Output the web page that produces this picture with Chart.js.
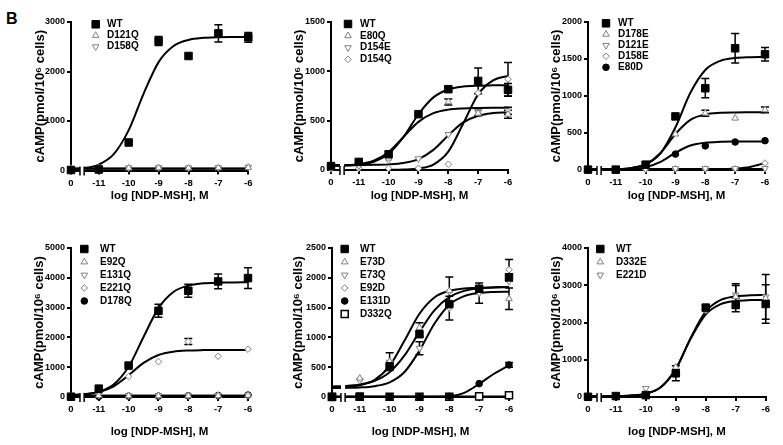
<!DOCTYPE html>
<html>
<head>
<meta charset="utf-8">
<title>cAMP dose response, panel B</title>
<script src="https://cdn.jsdelivr.net/npm/chart.js@4.4.1/dist/chart.umd.min.js"></script>
<style>
    html, body { margin: 0; padding: 0; background: #fff; }
    #figure { position: relative; width: 783px; height: 445px; overflow: hidden; background: #fff; }
    #figure canvas { position: absolute; }
    #panel-tag { position: absolute; left: 6px; top: 9.6px; line-height: 16px; font: bold 16px "Liberation Sans", Arial, sans-serif; }
</style>
</head>
<body>
<div id="figure">
    <div id="panel-tag">B</div>
    <canvas id="chart-a" width="260" height="215" style="left:0;top:0"></canvas>
    <canvas id="chart-b" width="260" height="215" style="left:260px;top:0"></canvas>
    <canvas id="chart-c" width="263" height="215" style="left:520px;top:0"></canvas>
    <canvas id="chart-d" width="260" height="230" style="left:0;top:215px"></canvas>
    <canvas id="chart-e" width="260" height="230" style="left:260px;top:215px"></canvas>
    <canvas id="chart-f" width="263" height="230" style="left:520px;top:215px"></canvas>
</div>
<script>
// doses are log [NDP-MSH]; 0 means no ligand and sits left of the axis break
const doses = [0, -11, -10, -9, -8, -7, -6];
const doseLabels = ['0', '-11', '-10', '-9', '-8', '-7', '-6'];
const fitDoses = [0, -11.5, -11, -10.5, -10, -9.5, -9, -8.5, -8, -7.5, -7, -6.5, -6];

// panel a
const aWT = [10, 20, 566, 2616, 2313, 2771, 2690];
const aWTErr = [0, 0, 0, 90, 0, 175, 100];
const aWTFit = [23, 46, 120, 330, 815, 1555, 2190, 2514, 2638, 2680, 2694, 2698, 2699];
const aD121Q = [40, 50, 50, 55, 50, 55, 60];
const aD121QFit = [35, 35, 35, 35, 35, 35, 35, 35, 35, 35, 35, 35, 35];
const aD158Q = [45, 55, 55, 60, 55, 60, 70];
const aD158QFit = [40, 40, 40, 40, 40, 40, 40, 40, 40, 40, 40, 40, 40];

// panel b
const bWT = [40, 82, 160, 566, 819, 903, 812];
const bWTErr = [0, 0, 0, 0, 25, 130, 65];
const bWTFit = [42, 45, 54, 84, 164, 335, 565, 736, 816, 846, 855, 858, 860];
const bE80Q = [40, 70, 120, 555, 690, 575, 565];
const bE80QErr = [0, 0, 0, 0, 30, 0, 40];
const bE80QFit = [42, 46, 58, 94, 182, 335, 488, 576, 612, 624, 628, 630, 630];
const bD154E = [30, 40, 100, 115, 360, 586, 600];
const bD154EErr = [0, 0, 0, 0, 0, 35, 35];
const bD154EFit = [50, 50, 51, 52, 57, 71, 110, 204, 351, 482, 550, 577, 586];
const bD154Q = [10, 17, 17, 17, 58, 782, 920];
const bD154QErr = [0, 0, 0, 0, 0, 0, 170];
const bD154QFit = [0, 0, 0, 0, 1, 4, 15, 55, 186, 471, 767, 909, 954];

// panel c
const cWT = [5, 5, 72, 724, 1105, 1645, 1564];
const cWTErr = [0, 0, 0, 0, 130, 200, 90];
const cWTFit = [6, 7, 11, 25, 75, 226, 578, 1044, 1352, 1475, 1514, 1525, 1529];
const cD178E = [5, 5, 63, 485, 768, 700, 813];
const cD178EErr = [0, 0, 0, 0, 40, 0, 40];
const cD178EFit = [5, 6, 10, 25, 78, 232, 487, 677, 751, 773, 778, 779, 780];
const cD121E = [10, 10, 10, 20, 20, 20, 20];
const cD121EFit = [15, 15, 15, 15, 15, 15, 15, 15, 15, 15, 15, 15, 15];
const cD158E = [10, 10, 10, 15, 15, 15, 94];
const cD158EFit = [8, 8, 8, 8, 8, 8, 8, 8, 9, 12, 20, 42, 95];
const cE80D = [5, 5, 36, 215, 326, 378, 396];
const cE80DFit = [5, 6, 7, 14, 38, 110, 234, 331, 370, 381, 384, 385, 385];

// panel d
const dWT = [10, 280, 1054, 2892, 3565, 3879, 3991];
const dWTErr = [0, 0, 0, 220, 220, 250, 350];
const dWTFit = [65, 90, 175, 418, 1012, 2016, 2984, 3526, 3741, 3815, 3839, 3846, 3849];
const dE92Q = [20, 50, 40, 40, 40, 50, 60];
const dE92QFit = [40, 40, 40, 40, 40, 40, 40, 40, 40, 40, 40, 40, 40];
const dE131Q = [30, 60, 50, 50, 50, 60, 70];
const dE131QFit = [45, 45, 45, 45, 45, 45, 45, 45, 45, 45, 45, 45, 45];
const dE221Q = [10, 300, 684, 1188, 1861, 1368, 1603];
const dE221QErr = [0, 0, 0, 0, 100, 0, 0];
const dE221QFit = [64, 88, 162, 357, 727, 1144, 1409, 1521, 1561, 1574, 1578, 1580, 1580];
const dD178Q = [10, 20, 30, 30, 40, 50, 67];
const dD178QFit = [30, 30, 30, 30, 30, 30, 30, 30, 30, 30, 30, 30, 30];

// panel e
const eWT = [0, 5, 516, 1054, 1558, 1816, 2007];
const eWTErr = [0, 0, 0, 0, 0, 0, 60];
const eWTFit = [177, 185, 210, 272, 416, 697, 1092, 1453, 1675, 1780, 1823, 1840, 1846];
const eE73D = [0, 314, 594, 1166, 1783, 1816, 1648];
const eE73DErr = [0, 0, 0, 0, 230, 0, 180];
const eE73Q = [0, 280, 583, 818, 1491, 1743, 1940];
const eE73QErr = [0, 0, 0, 110, 200, 170, 0];
const eE73QFit = [151, 153, 160, 182, 246, 420, 778, 1229, 1549, 1693, 1745, 1762, 1767];
const eE92D = [0, 297, 594, 1127, 1771, 1838, 2136];
const eE92DErr = [0, 0, 150, 120, 0, 0, 170];
const eE92DFit = [156, 165, 196, 289, 521, 947, 1397, 1670, 1782, 1821, 1834, 1838, 1840];
const eE131D = [0, 0, 0, 0, 11, 224, 538];
const eE131DErr = [0, 0, 0, 0, 0, 0, 40];
const eE131DFit = [5, 5, 5, 5, 5, 5, 5, 6, 12, 70, 220, 390, 530];
const eD332Q = [5, 5, 5, 5, 5, 11, 28];
const eD332QFit = [10, 10, 10, 10, 10, 10, 10, 10, 10, 10, 10, 10, 10];

// panel f
const fWT = [5, 25, 50, 636, 2400, 2470, 2497];
const fWTErr = [0, 0, 0, 200, 60, 180, 515];
const fWTFit = [20, 21, 25, 39, 91, 267, 754, 1569, 2217, 2492, 2578, 2601, 2607];
const fD332E = [10, 30, 80, 800, 2330, 2690, 2650];
const fD332EErr = [0, 0, 0, 0, 0, 300, 0];
const fE221D = [10, 40, 230, 720, 2330, 2740, 2690];
const fE221DErr = [0, 0, 0, 0, 0, 300, 600];
const fE221DFit = [20, 21, 25, 39, 89, 261, 748, 1594, 2298, 2607, 2703, 2730, 2737];

const ZERO_AT = -11.93;               // axis spot used for the "0" dose
const AXIS_BREAK = [-11.63, -11.49];
const FONT = '"Liberation Sans", Arial, sans-serif';

const MARKERS = {
    square: { pointStyle: 'rect', radius: 5.3, fill: '#000', stroke: '#000', width: 1 },
    triangle: { pointStyle: 'triangle', radius: 3.8, fill: '#fff', stroke: '#808080', width: 1 },
    invTriangle: { pointStyle: 'triangle', rotation: 180, radius: 3.8, fill: '#fff', stroke: '#808080', width: 1 },
    diamond: { pointStyle: 'rectRot', radius: 3.3, fill: '#fff', stroke: '#808080', width: 1 },
    dot: { pointStyle: 'circle', radius: 3.3, fill: '#000', stroke: '#000', width: 1 },
    openSquare: { pointStyle: 'rect', radius: 5, fill: '#fff', stroke: '#000', width: 1.5 },
};

const PANELS = [
    {
        id: 'chart-a', yMax: 3000, yStep: 1000,
        area: { left: 71, right: 248.3, top: 22, bottom: 170.5 },
        yTitleX: 40.5, xTitleFromBottom: 19,
        legend: { dx: 24.7, tx: 36, y0: 2.3, dy: 11.2 },
        series: [
            { label: 'WT', marker: 'square', values: aWT, errors: aWTErr, fit: aWTFit },
            { label: 'D121Q', marker: 'triangle', values: aD121Q, fit: aD121QFit },
            { label: 'D158Q', marker: 'invTriangle', values: aD158Q, fit: aD158QFit },
        ],
    },
    {
        id: 'chart-b', yMax: 1500, yStep: 500,
        area: { left: 71, right: 248, top: 22, bottom: 170 },
        yTitleX: 39, xTitleFromBottom: 19,
        legend: { dx: 17, tx: 29, y0: 2, dy: 11.8 },
        series: [
            { label: 'WT', marker: 'square', values: bWT, errors: bWTErr, fit: bWTFit },
            { label: 'E80Q', marker: 'triangle', values: bE80Q, errors: bE80QErr, fit: bE80QFit },
            { label: 'D154E', marker: 'invTriangle', values: bD154E, errors: bD154EErr, fit: bD154EFit },
            { label: 'D154Q', marker: 'diamond', values: bD154Q, errors: bD154QErr, fit: bD154QFit },
        ],
    },
    {
        id: 'chart-c', yMax: 2000, yStep: 500,
        area: { left: 68, right: 245, top: 22, bottom: 170 },
        yTitleX: 36.5, xTitleFromBottom: 19,
        legend: { dx: 18, tx: 30, y0: 1.3, dy: 11 },
        series: [
            { label: 'WT', marker: 'square', values: cWT, errors: cWTErr, fit: cWTFit },
            { label: 'D178E', marker: 'triangle', values: cD178E, errors: cD178EErr, fit: cD178EFit },
            { label: 'D121E', marker: 'invTriangle', values: cD121E, fit: cD121EFit },
            { label: 'D158E', marker: 'diamond', values: cD158E, fit: cD158EFit },
            { label: 'E80D', marker: 'dot', values: cE80D, fit: cE80DFit },
        ],
    },
    {
        id: 'chart-d', yMax: 5000, yStep: 1000,
        area: { left: 71, right: 248, top: 33, bottom: 182 },
        yTitleX: 39, xTitleFromBottom: 13.3,
        legend: { dx: 13.3, tx: 29, y0: 1, dy: 13 },
        series: [
            { label: 'WT', marker: 'square', values: dWT, errors: dWTErr, fit: dWTFit },
            { label: 'E92Q', marker: 'triangle', values: dE92Q, fit: dE92QFit },
            { label: 'E131Q', marker: 'invTriangle', values: dE131Q, fit: dE131QFit },
            { label: 'E221Q', marker: 'diamond', values: dE221Q, errors: dE221QErr, fit: dE221QFit },
            { label: 'D178Q', marker: 'dot', values: dD178Q, fit: dD178QFit },
        ],
    },
    {
        id: 'chart-e', yMax: 2500, yStep: 500,
        area: { left: 72, right: 249, top: 33, bottom: 182 },
        yTitleX: 38.5, xTitleFromBottom: 13.3,
        legend: { dx: 12.7, tx: 28, y0: 1, dy: 13 },
        series: [
            { label: 'WT', marker: 'square', values: eWT, errors: eWTErr, fit: eWTFit },
            { label: 'E73D', marker: 'triangle', values: eE73D, errors: eE73DErr },
            { label: 'E73Q', marker: 'invTriangle', values: eE73Q, errors: eE73QErr, fit: eE73QFit },
            { label: 'E92D', marker: 'diamond', values: eE92D, errors: eE92DErr, fit: eE92DFit },
            { label: 'E131D', marker: 'dot', values: eE131D, errors: eE131DErr, fit: eE131DFit },
            { label: 'D332Q', marker: 'openSquare', values: eD332Q, fit: eD332QFit },
        ],
    },
    {
        id: 'chart-f', yMax: 4000, yStep: 1000,
        area: { left: 68, right: 245.7, top: 33, bottom: 182 },
        yTitleX: 36, xTitleFromBottom: 13.3,
        legend: { dx: 12.3, tx: 28, y0: 1, dy: 13 },
        series: [
            { label: 'WT', marker: 'square', values: fWT, errors: fWTErr, fit: fWTFit },
            { label: 'D332E', marker: 'triangle', values: fD332E, errors: fD332EErr },
            { label: 'E221D', marker: 'invTriangle', values: fE221D, errors: fE221DErr, fit: fE221DFit },
        ],
    },
];

function xPos(dose) {
    return dose === 0 ? ZERO_AT : dose;
}

// vertical error bars with caps, read from dataset.errors
const errorBars = {
    id: 'errorBars',
    beforeDatasetsDraw(chart) {
        const { ctx, scales: { x, y } } = chart;
        ctx.save();
        ctx.strokeStyle = '#000';
        ctx.lineWidth = 1.5;
        chart.data.datasets.forEach((ds) => {
            if (!ds.errors) return;
            ds.data.forEach((p, i) => {
                const e = ds.errors[i];
                if (!e) return;
                const px = x.getPixelForValue(p.x);
                const top = y.getPixelForValue(p.y + e);
                const bot = y.getPixelForValue(p.y - e);
                ctx.beginPath();
                ctx.moveTo(px, top);
                ctx.lineTo(px, bot);
                ctx.moveTo(px - 4, top);
                ctx.lineTo(px + 4, top);
                ctx.moveTo(px - 4, bot);
                ctx.lineTo(px + 4, bot);
                ctx.stroke();
            });
        });
        ctx.restore();
    },
};

// white gap and "||" marks between the 0 dose and -11
const brokenAxis = {
    id: 'brokenAxis',
    afterDatasetsDraw(chart) {
        const { ctx, chartArea, scales: { x } } = chart;
        const a = x.getPixelForValue(AXIS_BREAK[0]);
        const b = x.getPixelForValue(AXIS_BREAK[1]);
        ctx.save();
        ctx.fillStyle = '#fff';
        ctx.fillRect(a, chartArea.top, b - a, chartArea.bottom - chartArea.top + 1.5);
        ctx.strokeStyle = '#000';
        ctx.lineWidth = 1.5;
        [a, b].forEach((px) => {
            ctx.beginPath();
            ctx.moveTo(px, chartArea.bottom - 4);
            ctx.lineTo(px, chartArea.bottom + 5);
            ctx.stroke();
        });
        ctx.restore();
    },
};

// legend drawn inside the plot, top left
const insetLegend = {
    id: 'insetLegend',
    afterDatasetsDraw(chart, args, opts) {
        const { ctx, chartArea } = chart;
        let row = 0;
        ctx.save();
        ctx.font = 'bold 10px ' + FONT;
        ctx.textBaseline = 'middle';
        ctx.textAlign = 'left';
        chart.data.datasets.forEach((ds) => {
            if (!ds.inLegend) return;
            const yy = chartArea.top + opts.y0 + row * opts.dy;
            ctx.fillStyle = ds.pointBackgroundColor;
            ctx.strokeStyle = ds.pointBorderColor;
            ctx.lineWidth = ds.pointBorderWidth;
            Chart.helpers.drawPoint(ctx, {
                pointStyle: ds.pointStyle,
                rotation: ds.pointRotation,
                radius: ds.pointRadius,
                borderWidth: ds.pointBorderWidth,
            }, chartArea.left + opts.dx, yy);
            ctx.fillStyle = '#000';
            ctx.fillText(ds.label, chartArea.left + opts.tx, yy);
            row++;
        });
        ctx.restore();
    },
};

function markerDataset(s) {
    const m = MARKERS[s.marker];
    return {
        label: s.label,
        data: doses.map((d, i) => ({ x: xPos(d), y: s.values[i] })),
        errors: s.errors || null,
        inLegend: true,
        showLine: false,
        pointStyle: m.pointStyle,
        pointRotation: m.rotation || 0,
        pointRadius: m.radius,
        pointBackgroundColor: m.fill,
        pointBorderColor: m.stroke,
        pointBorderWidth: m.width,
        clip: false,
    };
}

function fitDataset(s) {
    return {
        label: s.label + ' fit',
        data: fitDoses.map((d, i) => ({ x: xPos(d), y: s.fit[i] })),
        showLine: true,
        borderColor: '#000',
        borderWidth: 2,
        pointRadius: 0,
        cubicInterpolationMode: 'monotone',
        fill: false,
    };
}

function axisStyle() {
    return {
        grid: { drawOnChartArea: false, color: '#000', lineWidth: 2, tickLength: 4 },
        border: { color: '#000', width: 2 },
    };
}

function renderPanel(p) {
    const canvas = document.getElementById(p.id);
    const datasets = p.series.map(markerDataset)
        .concat(p.series.filter((s) => s.fit).map(fitDataset));

    new Chart(canvas, {
        type: 'line',
        data: { datasets: datasets },
        plugins: [errorBars, brokenAxis, insetLegend],
        options: {
            responsive: false,
            animation: false,
            events: [],
            layout: {
                padding: { left: 0, top: p.area.top, right: canvas.width - p.area.right, bottom: 0 },
            },
            plugins: {
                legend: { display: false },
                tooltip: { enabled: false },
                insetLegend: p.legend,
            },
            scales: {
                x: {
                    type: 'linear',
                    min: ZERO_AT,
                    max: -6,
                    ...axisStyle(),
                    afterBuildTicks: (scale) => {
                        scale.ticks = doses.map((d) => ({ value: xPos(d) }));
                    },
                    afterFit: (scale) => {
                        scale.height = canvas.height - p.area.bottom;
                    },
                    ticks: {
                        autoSkip: false,
                        maxRotation: 0,
                        padding: 3,
                        color: '#000',
                        font: { family: FONT, size: 9.5, weight: 'bold' },
                        callback: (value, index) => doseLabels[index],
                    },
                    title: {
                        display: true,
                        text: 'log [NDP-MSH], M',
                        color: '#000',
                        font: { family: FONT, size: 11.5, weight: 'bold', lineHeight: 1.2 },
                        padding: { top: 0, bottom: p.xTitleFromBottom - 6.9 },
                    },
                },
                y: {
                    min: 0,
                    max: p.yMax,
                    ...axisStyle(),
                    afterFit: (scale) => {
                        scale.width = p.area.left;
                    },
                    ticks: {
                        stepSize: p.yStep,
                        padding: 2,
                        color: '#000',
                        font: { family: FONT, size: 9, weight: 'bold' },
                        callback: (value) => String(value),
                    },
                    title: {
                        display: true,
                        text: 'cAMP(pmol/10\u2076 cells)',
                        color: '#000',
                        font: { family: FONT, size: 13, weight: 'bold', lineHeight: 1.2 },
                        padding: { top: p.yTitleX - 7.8, bottom: 0 },
                    },
                },
            },
        },
    });
}

PANELS.forEach(renderPanel);
</script>
</body>
</html>
